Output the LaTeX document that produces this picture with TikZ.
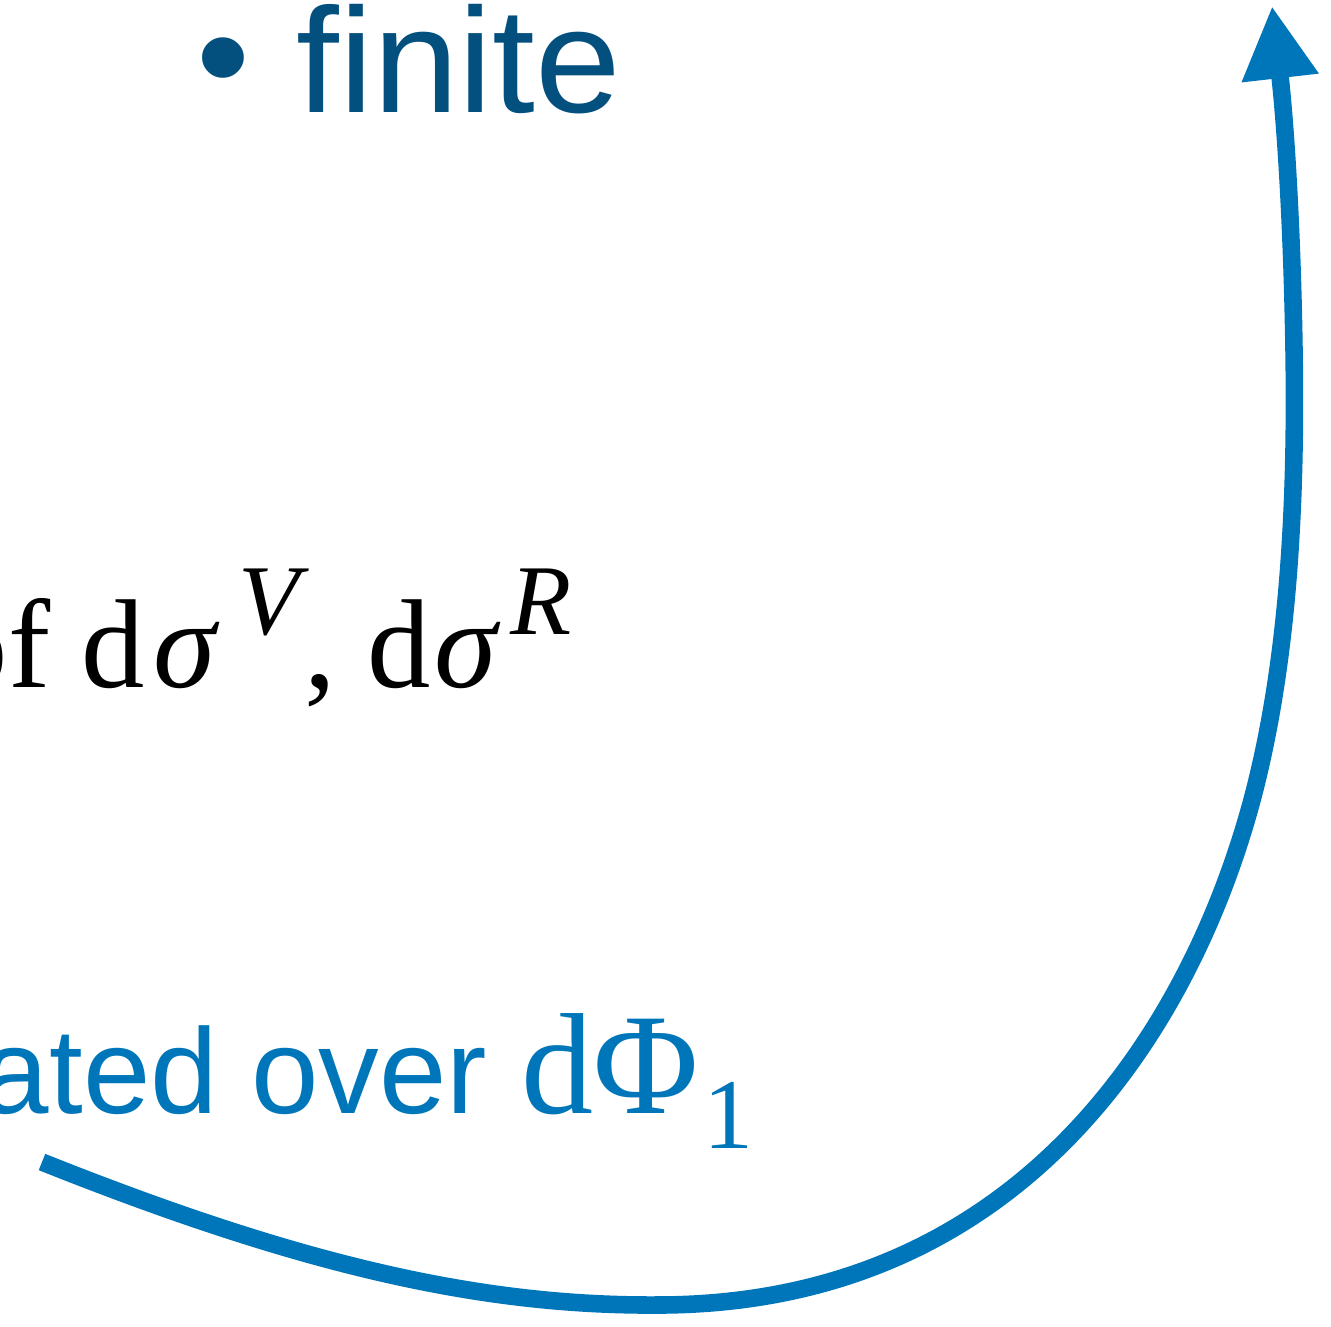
\documentclass[tikz,border=0pt]{standalone}
\usepackage{fontspec}
\setmainfont{Liberation Serif}
\newfontfamily\sansf{Liberation Sans}
\newfontfamily\sanswide[FakeStretch=1.03]{Liberation Sans}
\usetikzlibrary{arrows.meta}
\definecolor{darkblue}{HTML}{03507F}
\definecolor{keyblue}{HTML}{0076BA}
\tikzset{
  txt/.style={anchor=base west, inner sep=0pt, outer sep=0pt},
  flow/.style={draw=keyblue, line width=10pt, -{Triangle[length=1.45cm, width=1.45cm]}}
}
\begin{document}
\begin{tikzpicture}[x=0.02cm, y=-0.02cm]
\useasboundingbox (0,0) rectangle (1331,1326);
\clip (0,0) rectangle (1331,1326);
% bullet line
\node[txt, text=darkblue] (fin) at (196,112) {\sanswide\fontsize{85}{100}\selectfont \raisebox{2.8pt}{•}\hspace{0.93cm}finite};
% middle formula
\node[txt] (form) at (-55,687) {\fontsize{72}{84}\selectfont of d\hspace{4.5pt}\textit{σ}\hspace{11pt}\raisebox{30pt}{\fontsize{57}{66}\selectfont\textit{V}}\hspace{-3pt}, d\hspace{2pt}\textit{σ}\hspace{5.7pt}\raisebox{30pt}{\fontsize{57}{66}\selectfont\textit{R}}};
% blue label
\node[txt, text=keyblue] (lab) at (-18,1113) {\sansf\fontsize{69}{80}\selectfont ated over \rmfamily\fontsize{82}{92}\selectfont dΦ\hspace{3pt}\raisebox{-20pt}{\fontsize{57}{66}\selectfont 1}};
% arrow
\coordinate (s) at (42,1162);
\coordinate (b) at (657,1305);
\coordinate (r) at (1252,800);
\coordinate (m) at (1294,350);
\coordinate (t) at (1272,6);
\draw[flow] (s) .. controls (300,1265) and (480,1306) .. (b)
  .. controls (1020,1305) and (1190,1030) .. (r)
  .. controls (1292,650) and (1296,480) .. (m)
  .. controls (1292,220) and (1285,120) .. (t);
\end{tikzpicture}
\end{document}
